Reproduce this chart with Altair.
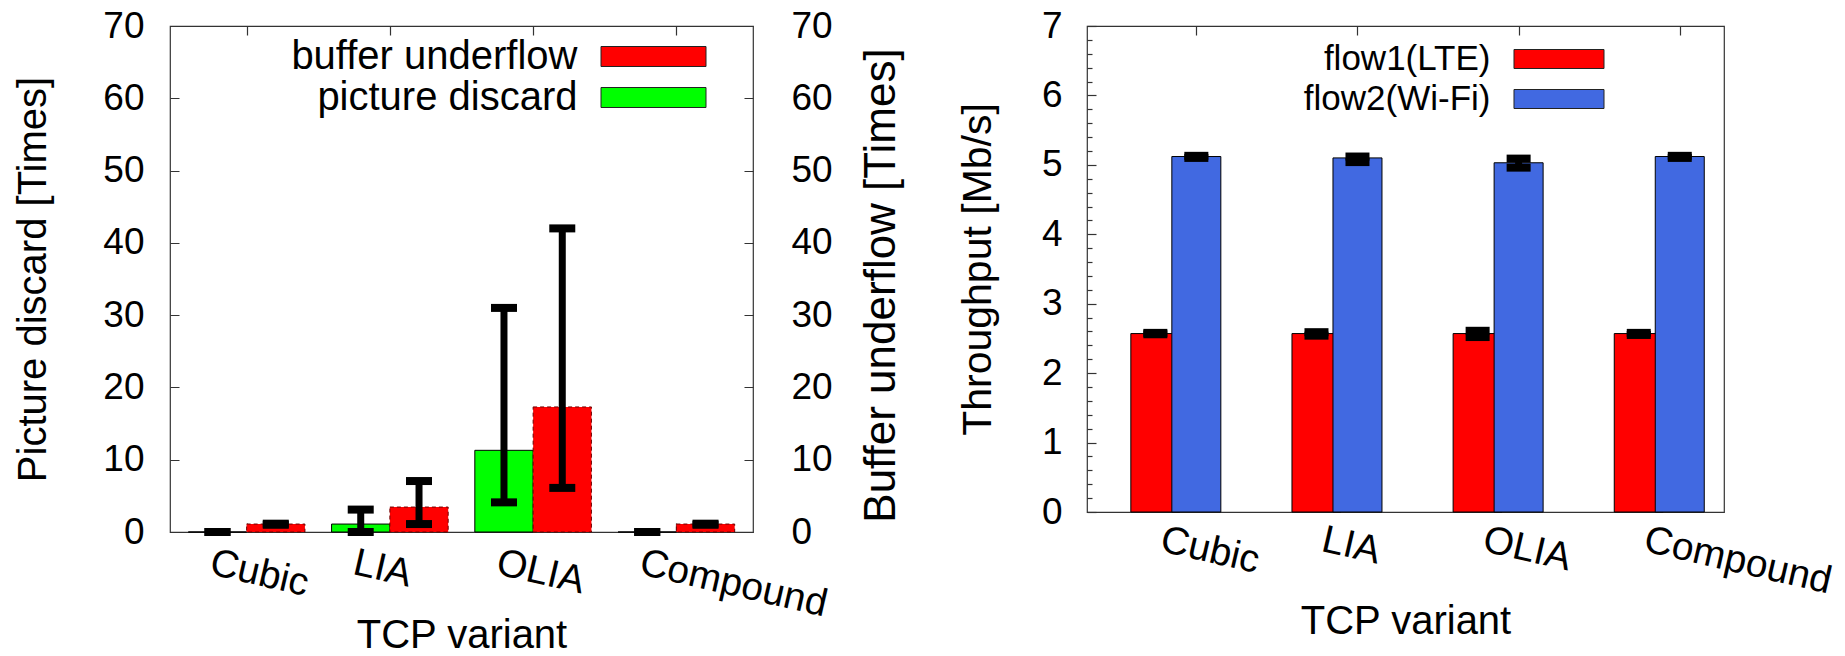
import json
import altair as alt
import pandas as pd

# ---------------- data ----------------
tcp = ["Cubic", "LIA", "OLIA", "Compound"]

# left panel: picture discard / buffer underflow [Times]
discard_mean = [0.0, 1.1, 11.3, 0.0]
discard_lo = [0.0, 0.0, 4.1, 0.0]
discard_hi = [0.0, 3.1, 31.0, 0.0]
underflow_mean = [1.1, 3.45, 17.3, 1.1]
underflow_lo = [1.0, 1.1, 6.1, 1.0]
underflow_hi = [1.15, 7.05, 42.0, 1.15]

# right panel: throughput [Mb/s]
lte_mean = [2.57, 2.57, 2.57, 2.57]
lte_lo = [2.56, 2.54, 2.52, 2.55]
lte_hi = [2.58, 2.59, 2.61, 2.58]
wifi_mean = [5.12, 5.10, 5.03, 5.12]
wifi_lo = [5.10, 5.04, 4.96, 5.10]
wifi_hi = [5.13, 5.12, 5.09, 5.13]

left_series = ["buffer underflow", "picture discard"]
left_colors = ["#ff0000", "#00ff00"]
right_series = ["flow1(LTE)", "flow2(Wi-Fi)"]
right_colors = ["#ff0000", "#4169e1"]


def table(series, mean, lo, hi):
    return pd.DataFrame({
        "tcp": tcp,
        "idx": list(range(len(tcp))),
        "series": series,
        "mean": mean,
        "lo": lo,
        "hi": hi,
    })


df_discard = table("picture discard", discard_mean, discard_lo, discard_hi)
df_under = table("buffer underflow", underflow_mean, underflow_lo, underflow_hi)
df_lte = table("flow1(LTE)", lte_mean, lte_lo, lte_hi)
df_wifi = table("flow2(Wi-Fi)", wifi_mean, wifi_lo, wifi_hi)

FONT = "Liberation Sans"
FRAME = "#333333"
label_expr = json.dumps(tcp) + "[datum.value]"

# ---------------- left panel ----------------
W1, H1 = 583, 506
x1_scale = alt.Scale(domain=[-0.5, 3.5], nice=False, zero=False)
y1_scale = alt.Scale(domain=[0, 70], nice=False)

x1_axis = alt.Axis(values=[0, 1, 2, 3], labelExpr=label_expr, labelAngle=13,
                   labelAlign="left", labelBaseline="top", labelOffset=-32,
                   labelPadding=11, labelFontSize=39, labelFlush=False, labelLimit=0,
                   labelOverlap=False, labelBound=False, ticks=False, domain=False,
                   grid=True, gridDash=[9, H1 - 18, 9, 3000], gridColor=FRAME,
                   gridWidth=1.2, gridOpacity=1, titleFontSize=40,
                   titleFontWeight="normal", titleY=123, titleBaseline="bottom")
y1_axis = alt.Axis(values=list(range(0, 71, 10)), labelFontSize=37, labelPadding=26,
                   ticks=False, domain=False, grid=True,
                   gridDash=[9, W1 - 18, 9, 3000], gridColor=FRAME, gridWidth=1.2,
                   gridOpacity=1, titleFontSize=40, titleFontWeight="normal",
                   titleX=-137, titleY=H1 / 2, titleAngle=270,
                   titleBaseline="middle", titleAlign="center")


def X1(field="idx:Q"):
    return alt.X(field, scale=x1_scale, axis=x1_axis, title="TCP variant")


def Y1(field):
    return alt.Y(field, scale=y1_scale, axis=y1_axis, title="Picture discard [Times]")


left_legend = alt.Legend(title=None, orient="none", legendX=463.5, legendY=10.5,
                         symbolType="M-5.25,-1H5.25V1H-5.25Z", symbolSize=400,
                         symbolStrokeColor="#222222", symbolStrokeWidth=1,
                         symbolOpacity=1, labelFontSize=40, labelAlign="right",
                         labelOffset={"expr": "-96"}, labelLimit=0,
                         rowPadding=1, labelBaseline="middle")
C1 = alt.Color("series:N", scale=alt.Scale(domain=left_series, range=left_colors),
               legend=left_legend)

BW1 = 58.3
bars_green = alt.Chart(df_discard).mark_bar(width=BW1, xOffset=-BW1 / 2, stroke="black",
                                            strokeWidth=1, opacity=1).encode(
    x=X1(), y=Y1("mean:Q"), color=C1)
bars_red = alt.Chart(df_under).mark_bar(width=BW1, xOffset=BW1 / 2, stroke="#700000",
                                        strokeWidth=1, strokeDash=[4, 3], opacity=1).encode(
    x=X1(), y=Y1("mean:Q"), color=C1)


def errbars(df, xo, X, Y, lw=7, cap=26, thick=8):
    rule = alt.Chart(df).mark_rule(color="black", strokeWidth=lw, xOffset=xo).encode(
        x=X(), y=Y("lo:Q"), y2="hi:Q")
    lo = alt.Chart(df).mark_tick(color="black", orient="horizontal", size=cap,
                                 thickness=thick, opacity=1, xOffset=xo).encode(
        x=X(), y=Y("lo:Q"))
    hi = alt.Chart(df).mark_tick(color="black", orient="horizontal", size=cap,
                                 thickness=thick, opacity=1, xOffset=xo).encode(
        x=X(), y=Y("hi:Q"))
    return [rule, lo, hi]


left_main = alt.layer(bars_green, bars_red,
                      *errbars(df_discard, -BW1 / 2, X1, Y1),
                      *errbars(df_under, BW1 / 2, X1, Y1))

y1r_axis = alt.Axis(orient="right", values=list(range(0, 71, 10)), labelFontSize=37,
                    labelPadding=38, ticks=False, domain=False, grid=False,
                    titleFontSize=44, titleFontWeight="normal", titleX=128,
                    titleY=H1 / 2 + 6, titleAngle=270, titleBaseline="middle",
                    titleAlign="center")
left_right_axis = alt.Chart(df_under).mark_rule(opacity=0).encode(
    y=alt.Y("mean:Q", scale=y1_scale, axis=y1r_axis, title="Buffer underflow [Times]"))

left = alt.layer(left_main, left_right_axis).resolve_scale(y="independent").properties(
    width=W1, height=H1)

# ---------------- right panel ----------------
W2, H2 = 637, 486
x2_scale = alt.Scale(domain=[-0.6475, 3.2435], nice=False, zero=False)
y2_scale = alt.Scale(domain=[0, 7], nice=False)
minor_values = [round(i * 0.2, 1) for i in range(36)]

x2_axis = alt.Axis(values=[0, 1, 2, 3], labelExpr=label_expr, labelAngle=13,
                   labelAlign="left", labelBaseline="top", labelOffset=-31,
                   labelPadding=8, labelFontSize=39, labelFlush=False, labelLimit=0,
                   labelOverlap=False, labelBound=False, ticks=False, domain=False,
                   grid=True, gridDash=[9, H2 - 18, 9, 3000], gridColor=FRAME,
                   gridWidth=1.2, gridOpacity=1, titleFontSize=40,
                   titleFontWeight="normal", titleY=109, titleBaseline="middle")
y2_axis = alt.Axis(values=minor_values,
                   labelExpr="datum.value % 1 === 0 ? '' + datum.value : ''",
                   labelFontSize=37, labelPadding=25, ticks=False, domain=False,
                   grid=True,
                   gridDash={"condition": {"test": "datum.value % 1 === 0", "value": [9, 3000]},
                             "value": [5, 3000]},
                   gridColor=FRAME, gridWidth=1.2, gridOpacity=1, titleFontSize=41,
                   titleFontWeight="normal", titleX=-109, titleY=H2 / 2,
                   titleAngle=270, titleBaseline="middle", titleAlign="center")


def X2(field="idx:Q"):
    return alt.X(field, scale=x2_scale, axis=x2_axis, title="TCP variant")


def Y2(field):
    return alt.Y(field, scale=y2_scale, axis=y2_axis, title="Throughput [Mb/s]")


right_legend = alt.Legend(title=None, orient="none", legendX=454.5, legendY=15.5,
                          symbolType="M-4.737,-1H4.737V1H-4.737Z", symbolSize=361,
                          symbolStrokeColor="#222222", symbolStrokeWidth=1,
                          symbolOpacity=1, labelFontSize=35, labelAlign="right",
                          labelOffset={"expr": "-86"}, labelLimit=0,
                          rowPadding=4, labelBaseline="middle")
C2 = alt.Color("series:N", scale=alt.Scale(domain=right_series, range=right_colors),
               legend=right_legend)

BW2 = 49
RO = -41
bars_lte = alt.Chart(df_lte).mark_bar(width=BW2, xOffset=RO, stroke="black",
                                      strokeWidth=1, opacity=1).encode(
    x=X2(), y=Y2("mean:Q"), color=C2)
bars_wifi = alt.Chart(df_wifi).mark_bar(width=BW2, xOffset=0, stroke="black",
                                        strokeWidth=1, opacity=1).encode(
    x=X2(), y=Y2("mean:Q"), color=C2)

right = alt.layer(bars_lte, bars_wifi,
                  *errbars(df_lte, RO, X2, Y2, lw=7, cap=24, thick=8),
                  *errbars(df_wifi, 0, X2, Y2, lw=7, cap=24, thick=8)).properties(
    width=W2, height=H2)

chart = alt.hconcat(left, right, spacing=52).resolve_scale(
    color="independent").resolve_legend(color="independent").properties(
    padding={"left": 12, "top": 6, "right": 0, "bottom": 0},
    background="white",
).configure_view(stroke=FRAME, strokeWidth=1.2).configure_axis(
    labelFont=FONT, titleFont=FONT, labelColor="black", titleColor="black"
).configure_legend(labelFont=FONT, labelColor="black")

chart.save("out.html", embed_options={"renderer": "svg", "actions": False})
